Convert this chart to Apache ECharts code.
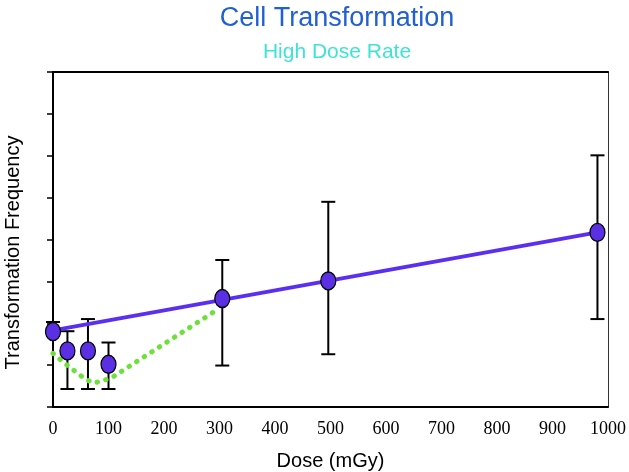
<!DOCTYPE html>
<html>
<head>
<meta charset="utf-8">
<script src="https://cdn.jsdelivr.net/npm/echarts@6/dist/echarts.min.js"></script>
<style>html,body{margin:0;padding:0;background:#fff}#c{width:629px;height:472px}</style>
</head>
<body>
<div id="c"></div>
<script>
// Measured data (dose in mGy, transformation frequency in tick units)
const doses = [0, 26, 63, 100, 305, 496, 981];
const freq = [1.80, 1.34, 1.34, 1.02, 2.59, 3.01, 4.17];
const errLow = [1.70, 0.43, 0.43, 0.43, 0.99, 1.26, 2.10];
const errHigh = [2.03, 1.81, 2.10, 1.54, 3.51, 4.90, 6.01];
const fitDose = [0, 981];
const fitFreq = [1.83, 4.17];
const curveDose = [0, 29, 58, 73, 91, 108, 292];
const curveFreq = [1.28, 0.96, 0.67, 0.57, 0.63, 0.72, 2.29];
const xTicks = [0, 100, 200, 300, 400, 500, 600, 700, 800, 900, 1000];

const chart = echarts.init(document.getElementById('c'));
const pts = doses.map((d, i) => [d, freq[i]]);
const errs = doses.map((d, i) => [d, errLow[i], errHigh[i]]);
const fit = fitDose.map((d, i) => [d, fitFreq[i]]);
const curve = curveDose.map((d, i) => [d, curveFreq[i]]);

chart.setOption({
  animation: false,
  title: [
    { text: 'Cell Transformation', left: 332, top: 0, textAlign: 'center',
      textStyle: { fontFamily: 'Liberation Sans', fontSize: 27, fontWeight: 'normal', color: '#2160d2' } },
    { text: 'High Dose Rate', left: 332, top: 37, textAlign: 'center',
      textStyle: { fontFamily: 'Liberation Sans', fontSize: 21, fontWeight: 'normal', color: '#3fe3d6' } }
  ],
  grid: { left: 53, right: 21, top: 72, bottom: 65, containLabel: false, outerBoundsMode: 'none' },
  xAxis: [
    { type: 'value', min: 0, max: 1000, interval: 100, position: 'bottom',
      name: 'Dose (mGy)', nameLocation: 'middle', nameGap: 44,
      nameTextStyle: { fontFamily: 'Liberation Sans', fontSize: 20, color: '#000' },
      axisLine: { onZero: false, lineStyle: { color: '#000', width: 2 } },
      axisTick: { show: false }, splitLine: { show: false },
      axisLabel: { fontFamily: 'Liberation Serif', fontSize: 18, color: '#000', margin: 13, hideOverlap: false,
        formatter: v => xTicks.includes(v) ? String(v) : '' } },
    { type: 'value', min: 0, max: 1000, position: 'top',
      axisLine: { show: true, onZero: false, lineStyle: { color: '#000', width: 2 } },
      axisTick: { show: false }, axisLabel: { show: false }, splitLine: { show: false } }
  ],
  yAxis: [
    { type: 'value', min: 0, max: 8, interval: 1, position: 'left',
      name: 'Transformation Frequency', nameLocation: 'middle', nameGap: 30,
      nameTextStyle: { fontFamily: 'Liberation Sans', fontSize: 20, color: '#000', padding: [0, 26, 0, 0] },
      axisLine: { show: true, onZero: false, lineStyle: { color: '#000', width: 2 } },
      axisTick: { show: true, inside: false, length: 6, lineStyle: { color: '#000', width: 1.5 } },
      axisLabel: { show: false }, splitLine: { show: false } },
    { type: 'value', min: 0, max: 8, position: 'right',
      axisLine: { show: true, onZero: false, lineStyle: { color: '#333', width: 1 } },
      axisTick: { show: false }, axisLabel: { show: false }, splitLine: { show: false } }
  ],
  series: [
    { type: 'custom', data: errs, z: 2,
      renderItem: function (params, api) {
        const x = api.value(0);
        const lo = api.coord([x, api.value(1)]);
        const hi = api.coord([x, api.value(2)]);
        const hw = 7;
        const st = { stroke: '#000', lineWidth: 2 };
        return { type: 'group', children: [
          { type: 'line', shape: { x1: lo[0], y1: lo[1], x2: hi[0], y2: hi[1] }, style: st },
          { type: 'line', shape: { x1: lo[0] - hw, y1: lo[1], x2: lo[0] + hw, y2: lo[1] }, style: st },
          { type: 'line', shape: { x1: hi[0] - hw, y1: hi[1], x2: hi[0] + hw, y2: hi[1] }, style: st }
        ] };
      } },
    { type: 'line', data: fit, showSymbol: false, z: 3,
      lineStyle: { color: '#5b2ff0', width: 4 } },
    { type: 'line', data: curve, showSymbol: false, z: 3,
      lineStyle: { color: '#6ee03c', width: 5, type: [0.5, 8.5], cap: 'round' } },
    { type: 'scatter', data: pts, z: 5, symbol: 'circle', symbolSize: [15, 18],
      itemStyle: { color: '#5b2fe3', borderColor: '#000', borderWidth: 1.3, opacity: 1 } }
  ]
});
</script>
</body>
</html>
